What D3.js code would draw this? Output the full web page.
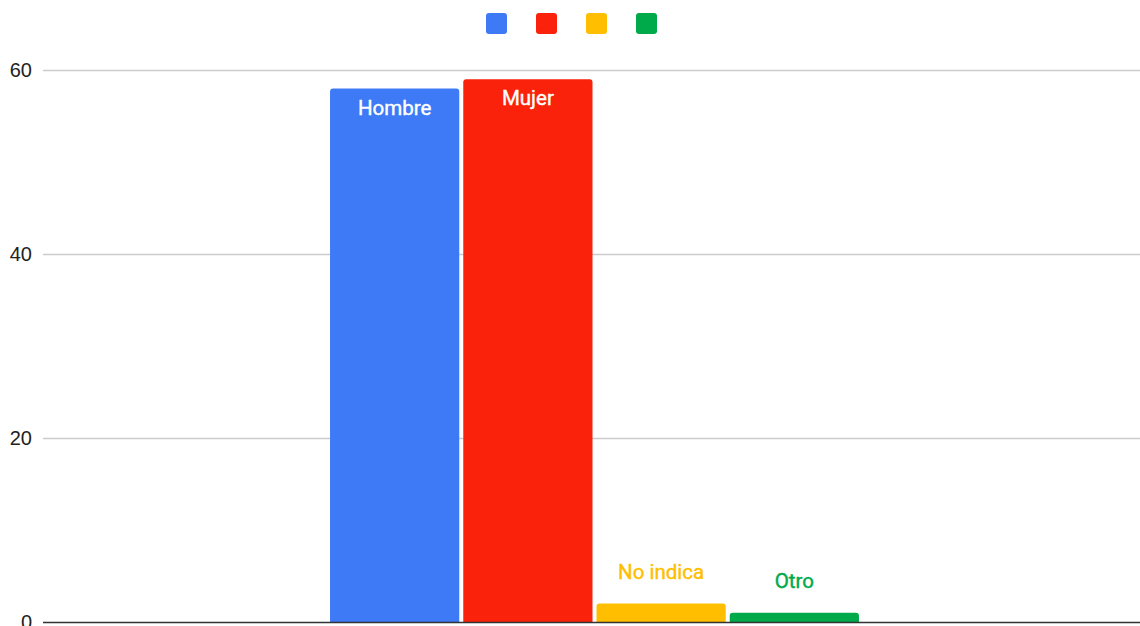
<!DOCTYPE html>
<html lang="es">
<head>
<meta charset="UTF-8">
<title>Gráfico de barras</title>
<script src="https://d3js.org/d3.v7.min.js"></script>
<style>
  body { margin: 0; background: #fff; }
  svg { display: block; }
</style>
</head>
<body>
<svg width="1140" height="626"></svg>
<script>
// Data
const categories = ['Hombre', 'Mujer', 'No indica', 'Otro'];
const values = [58, 59, 2, 1];
const colors = ['#3e7af6', '#fa220a', '#ffbe00', '#00a94a'];
const yTicks = [0, 20, 40, 60];

const width = 1140, height = 626;
const margin = { top: 70, right: 0, bottom: 4, left: 43 };

const svg = d3.select('svg');

const y = d3.scaleLinear()
    .domain([0, 60])
    .range([height - margin.bottom, margin.top]);

// one group, four bars
const group = d3.scaleBand()
    .domain(['g'])
    .range([margin.left + 3, width + 3])
    .paddingOuter(0.537)
    .paddingInner(0);

const x = d3.scaleBand()
    .domain(categories)
    .range([group('g'), group('g') + group.bandwidth()])
    .paddingInner(0.03);

// gridlines
svg.append('g')
    .selectAll('line')
    .data(yTicks.filter(d => d !== 0))
    .enter()
    .append('line')
    .attr('x1', margin.left)
    .attr('x2', width)
    .attr('y1', d => Math.round(y(d)) + 0.5)
    .attr('y2', d => Math.round(y(d)) + 0.5)
    .attr('stroke', '#cccccc')
    .attr('stroke-width', 1.5);

// tick labels
svg.append('g')
    .selectAll('text')
    .data(yTicks)
    .enter()
    .append('text')
    .attr('x', 32)
    .attr('y', d => y(d))
    .attr('dy', '0.35em')
    .attr('text-anchor', 'end')
    .attr('font-family', 'Liberation Sans, Arial, sans-serif')
    .attr('font-size', '20px')
    .attr('fill', '#222')
    .text(d => d);

// bars with rounded top corners
const r = 3;
function barPath(x0, w, top, bottom) {
    const h = bottom - top;
    const rr = Math.min(r, h);
    return `M${x0},${bottom}V${top + rr}Q${x0},${top} ${x0 + rr},${top}` +
           `H${x0 + w - rr}Q${x0 + w},${top} ${x0 + w},${top + rr}V${bottom}Z`;
}

const data = categories.map((c, i) => ({ cat: c, value: values[i], color: colors[i] }));

svg.append('g')
    .selectAll('path')
    .data(data)
    .enter()
    .append('path')
    .attr('d', d => barPath(x(d.cat), x.bandwidth(), y(d.value), y(0)))
    .attr('fill', d => d.color);

// baseline
svg.append('line')
    .attr('x1', margin.left)
    .attr('x2', width)
    .attr('y1', y(0) + 0.5)
    .attr('y2', y(0) + 0.5)
    .attr('stroke', '#333')
    .attr('stroke-width', 1.5);

// bar labels: inside (white) when tall, above in series colour otherwise
const isInside = d => y(0) - y(d.value) > 40;

svg.append('g')
    .selectAll('text')
    .data(data)
    .enter()
    .append('text')
    .attr('x', d => x(d.cat) + x.bandwidth() / 2)
    .attr('y', d => isInside(d) ? y(d.value) + 19 : y(d.value) - 32)
    .attr('dy', '0.35em')
    .attr('text-anchor', 'middle')
    .attr('font-family', 'Roboto, sans-serif')
    .attr('font-size', '20.5px')
    .attr('fill', d => isInside(d) ? '#fff' : d.color)
    .style('paint-order', 'stroke')
    .attr('stroke', d => isInside(d) ? '#fff' : d.color)
    .attr('stroke-width', 0.4)
    .text(d => d.cat);

// legend (swatches only)
const legendX = d3.scalePoint()
    .domain(categories)
    .range([486, 636]);

svg.append('g')
    .selectAll('rect')
    .data(data)
    .enter()
    .append('rect')
    .attr('x', d => legendX(d.cat))
    .attr('y', 13)
    .attr('width', 21)
    .attr('height', 21)
    .attr('rx', 3)
    .attr('fill', d => d.color);
</script>
</body>
</html>
